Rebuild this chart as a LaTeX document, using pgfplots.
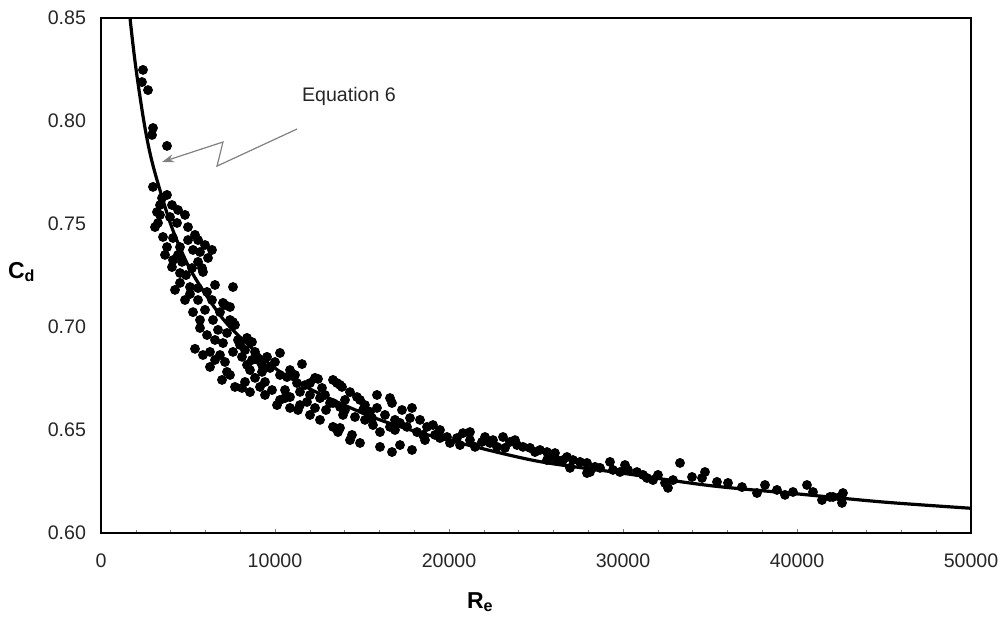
\documentclass[border=0pt]{standalone}
\usepackage{fontspec}
\setmainfont{Liberation Sans}
\usepackage{pgfplots}
\pgfplotsset{compat=1.18}
\usetikzlibrary{arrows.meta}

\begin{document}
\begin{tikzpicture}
\path[use as bounding box] (-50.5pt,-45.5pt) rectangle (452.5pt,266.5pt);
\begin{axis}[
  at={(0,0)}, anchor=south west,
  scale only axis, width=435pt, height=257.5pt,
  xmin=0, xmax=50000, ymin=0.60, ymax=0.85,
  xtick={0,10000,20000,30000,40000,50000},
  ytick={0.60,0.65,0.70,0.75,0.80,0.85},
  minor x tick num=4,
  scaled x ticks=false,
  xticklabel style={/pgf/number format/1000 sep={}, yshift=-7pt},
  yticklabel style={/pgf/number format/.cd,fixed,fixed zerofill,precision=2, /tikz/xshift=-4pt},
  /pgf/number format/assume math mode=true,
  tick label style={font=\fontsize{9.8}{11}\selectfont, text=black!85},
  tick align=inside, xtick pos=left, ytick pos=left,
  major tick length=2pt, minor tick length=1.5pt,
  ytick style={draw=none},
  axis line style={line width=1.2pt},
  xlabel={\textbf{R\textsubscript{e}}},
  ylabel={\textbf{C\textsubscript{d}}},
  label style={font=\fontsize{11.5}{13}\selectfont},
  xlabel style={at={(axis description cs:0.436,-0.134)}, anchor=center},
  ylabel style={at={(axis description cs:-0.091,0.507)}, anchor=center, rotate=-90},
]
% Equation 6 curve
\addplot[no marks, line width=1.6pt, smooth] coordinates {
  (1500,0.865) (1667,0.850) (2000,0.826) (2500,0.798) (3000,0.778)
  (4000,0.750) (5000,0.730) (6000,0.716) (7000,0.704) (8000,0.695)
  (10000,0.680) (12000,0.670) (14000,0.662) (16000,0.655) (18000,0.6495)
  (20000,0.645) (25000,0.635) (30000,0.629) (35000,0.623) (40000,0.619)
  (45000,0.615) (50000,0.612)};
% measured points
\addplot[only marks, mark=*, mark size=2.25pt, black] coordinates {
  (2414,0.8248) (2356,0.8189) (2701,0.8150) (2988,0.7966) (2931,0.7932)
  (3793,0.7879) (2988,0.7680) (3793,0.7641) (3218,0.7558) (3276,0.7505)
  (3103,0.7485) (3965,0.7534) (4368,0.7505) (5000,0.7485) (3563,0.7437)
  (4138,0.7432) (3793,0.7388) (4540,0.7388) (5287,0.7374) (5690,0.7364)
  (3678,0.7350) (4138,0.7325) (4655,0.7316) (5575,0.7316) (5804,0.7286)
  (4080,0.7291) (4540,0.7262) (5862,0.7267) (4540,0.7214) (5115,0.7194)
  (5575,0.7189) (6092,0.7170) (7586,0.7194) (4827,0.7131) (5575,0.7131)
  (7126,0.7107) (5287,0.7072) (7011,0.7117) (7414,0.7097) (5690,0.6995)
  (6092,0.6961) (7586,0.7024) (7701,0.7010) (6552,0.6937) (7011,0.6922)
  (7241,0.6971) (8391,0.6947) (8678,0.6927) (5402,0.6894) (6264,0.6879)
  (6839,0.6864) (7586,0.6879) (8103,0.6855) (6264,0.6806) (7241,0.6782)
  (7414,0.6767) (8391,0.6816) (9023,0.6840) (9540,0.6855) (10287,0.6874)
  (9712,0.6801) (10287,0.6767) (7701,0.6709) (8103,0.6704) (9138,0.6709)
  (9827,0.6694) (10689,0.6757) (11264,0.6728) (11551,0.6820) (12299,0.6753)
  (12471,0.6748) (13333,0.6743) (13735,0.6719) (10862,0.6660) (11839,0.6636)
  (12586,0.6655) (10115,0.6621) (10862,0.6607) (13161,0.6631) (13735,0.6612)
  (14023,0.6597) (13563,0.6728) (13850,0.6709) (13333,0.6631) (14023,0.6646)
  (14712,0.6660) (15862,0.6670) (16609,0.6655) (16724,0.6631) (15862,0.6607)
  (17298,0.6597) (17873,0.6607) (13908,0.6573) (14597,0.6563) (15057,0.6597)
  (13333,0.6515) (13620,0.6490) (14425,0.6476) (14885,0.6437) (15632,0.6524)
  (16034,0.6490) (16609,0.6515) (17184,0.6534) (17586,0.6515) (16034,0.6418)
  (16724,0.6393) (17184,0.6427) (17873,0.6403) (18161,0.6490) (18735,0.6515)
  (19080,0.6524) (18505,0.6476) (19482,0.6500) (19885,0.6466) (20459,0.6461)
  (20804,0.6485) (21206,0.6451) (21896,0.6442) (22528,0.6451) (22758,0.6418)
  (20057,0.6437) (22356,0.6437) (23103,0.6466) (23505,0.6442) (23908,0.6427)
  (24252,0.6418) (24655,0.6413) (24942,0.6393) (25632,0.6393) (25919,0.6369)
  (26206,0.6354) (26551,0.6354) (26781,0.6369) (27126,0.6354) (27528,0.6345)
  (27930,0.6340) (28103,0.6296) (28390,0.6321) (28678,0.6316) (29425,0.6306)
  (29827,0.6296) (30287,0.6306) (30804,0.6296) (31149,0.6282) (31379,0.6267)
  (25632,0.6354) (26953,0.6316) (27930,0.6291) (31723,0.6257) (32011,0.6282)
  (32585,0.6219) (32413,0.6243) (32873,0.6257) (33275,0.6340) (33965,0.6272)
  (34540,0.6267) (35402,0.6248) (36034,0.6243) (36838,0.6223) (37700,0.6194)
  (38160,0.6233) (38850,0.6209) (39309,0.6185) (39769,0.6199) (40574,0.6233)
  (40919,0.6199) (41436,0.6160) (42068,0.6175) (42470,0.6175) (42585,0.6146)
  (41896,0.6175) (42642,0.6194)
  (9253,0.6782) (8851,0.6753) (9425,0.6733) (10574,0.6694) (11436,0.6685)
  (12011,0.6670) (12701,0.6704) (12931,0.6597) (12299,0.6607) (11436,0.6621)
  (10574,0.6655) (8678,0.6840) (7988,0.6913) (6724,0.6986) (6437,0.7034)
  (5977,0.7083) (4885,0.7252) (4253,0.7180) (5230,0.7286) (3391,0.7592)
  (3506,0.7626) (4080,0.7592) (4425,0.7568) (5575,0.7422) (6379,0.7374)
  (6149,0.7335) (15172,0.6549) (15460,0.6588) (16321,0.6573) (16896,0.6549)
  (18333,0.6549) (19195,0.6476) (20632,0.6427) (21494,0.6418) (23218,0.6413)
  (25229,0.6403) (26091,0.6388) (29252,0.6345) (30114,0.6330) (34712,0.6296)
  (7873,0.6937) (8276,0.6888) (8850,0.6879) (9253,0.6816) (8563,0.6791)
  (10000,0.6830) (10862,0.6791) (11149,0.6767) (11724,0.6718) (12011,0.6728)
  (12873,0.6670) (14310,0.6684) (14885,0.6646) (15172,0.6621) (15575,0.6558)
  (17758,0.6558) (16896,0.6500) (18620,0.6451) (19482,0.6461) (21206,0.6490)
  (22068,0.6466) (23793,0.6451) (7414,0.7034) (6839,0.7072) (6379,0.7131)
  (6552,0.7204) (5115,0.7160) (4425,0.7350) (5000,0.7422) (5977,0.7398)
  (3391,0.7544) (4827,0.7544) (5402,0.7447) (5690,0.7034) (6552,0.6840)
  (5862,0.6864) (7126,0.6830) (6954,0.6743) (8276,0.6733) (8563,0.6684)
  (9425,0.6670) (10287,0.6646) (11321,0.6597) (12011,0.6573) (12586,0.6549)
  (13735,0.6510) (14310,0.6451)};
% annotation
\draw[black!50, line width=0.6pt, -{Stealth[length=6pt,width=4pt]}]
  (axis cs:11264,0.7961) -- (axis cs:6667,0.7781) -- (axis cs:7011,0.7898)
  -- (axis cs:3506,0.7801);
\node[anchor=west, font=\fontsize{9.8}{11}\selectfont, text=black!85]
  at (axis cs:11150,0.8117) {Equation 6};
\end{axis}
\end{tikzpicture}
\end{document}
